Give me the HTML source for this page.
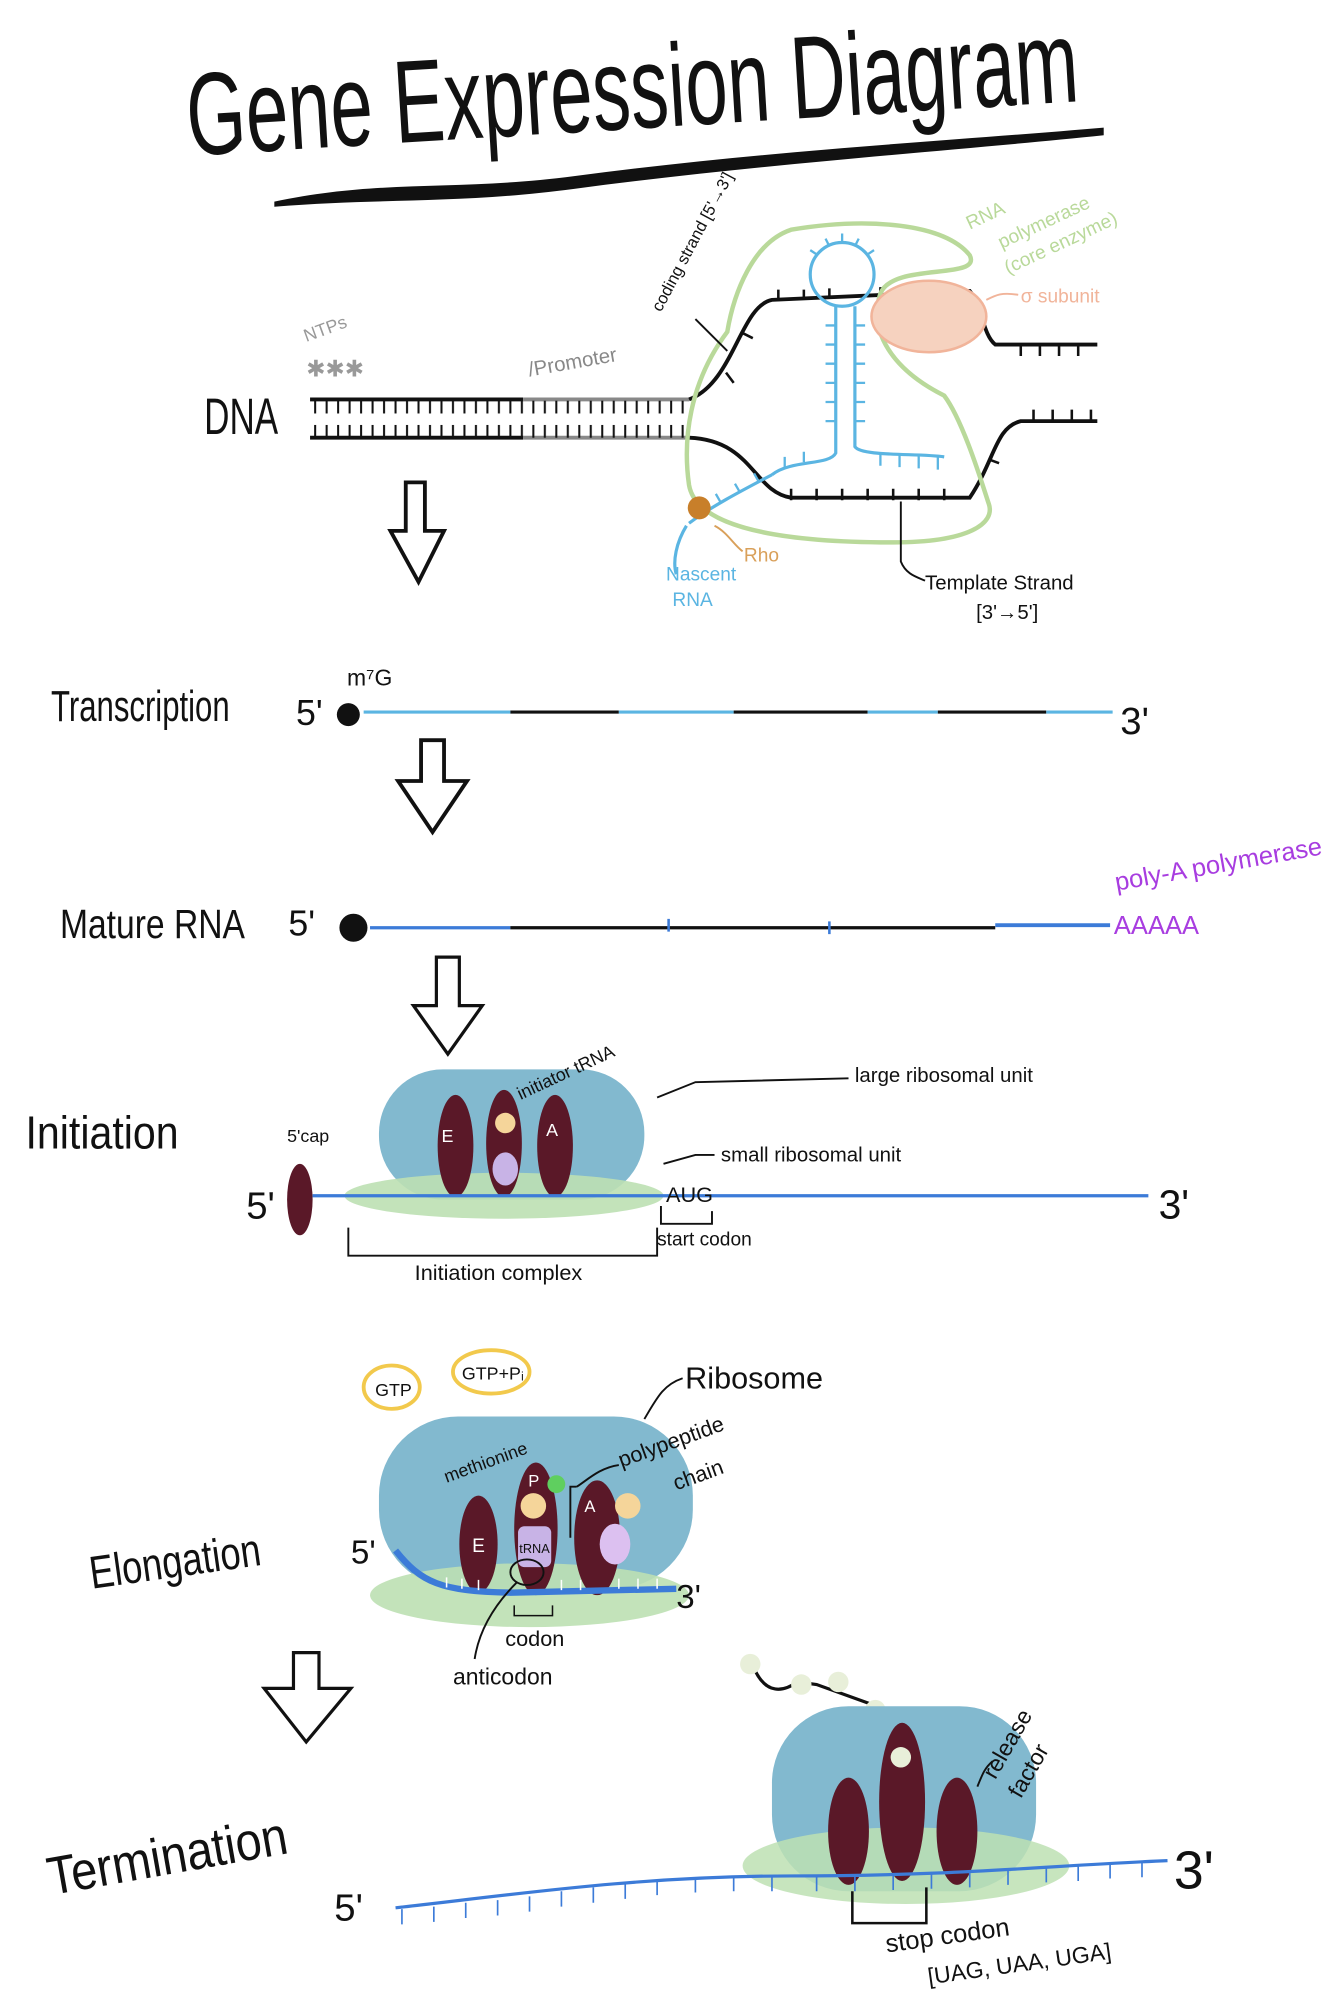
<!DOCTYPE html>
<html><head><meta charset="utf-8"><style>
html,body{margin:0;padding:0;background:#fff;}
svg{display:block;}
text{font-family:"Liberation Sans Narrow","Liberation Sans",sans-serif;}
</style></head><body>
<svg width="1327" height="2001" viewBox="0 0 1040 1568" preserveAspectRatio="none" xmlns="http://www.w3.org/2000/svg">
<defs>
<pattern id="tk" width="9" height="10" patternUnits="userSpaceOnUse"><line x1="4" y1="0" x2="4" y2="10" stroke="#111" stroke-width="1.6"/></pattern>
</defs>
<!-- Title -->
<text x="148" y="122" font-size="92" textLength="700" lengthAdjust="spacingAndGlyphs" fill="#111" transform="rotate(-3.5 148 122)">Gene Expression Diagram</text>
<path d="M215 158 C300 140 360 150 450 138 C600 118 750 110 865 100 L865 106 C750 118 600 128 450 148 C360 160 300 155 215 162 Z" fill="#111"/>

<!-- DNA -->
<text x="160" y="340" font-size="40" textLength="58" lengthAdjust="spacingAndGlyphs" fill="#111">DNA</text>
<text x="240" y="268" font-size="14" fill="#999" transform="rotate(-20 240 268)">NTPs</text>
<text x="240" y="295" font-size="18" fill="#999">✱✱✱</text>
<text x="415" y="295" font-size="16" fill="#888" transform="rotate(-10 415 295)">/Promoter</text>
<line x1="243" y1="313" x2="410" y2="313" stroke="#111" stroke-width="3"/>
<line x1="410" y1="313" x2="540" y2="313" stroke="#888" stroke-width="3"/>
<rect x="243" y="314" width="297" height="10" fill="url(#tk)"/>
<line x1="243" y1="343" x2="410" y2="343" stroke="#111" stroke-width="3"/>
<line x1="410" y1="343" x2="540" y2="343" stroke="#888" stroke-width="3"/>
<rect x="243" y="333" width="297" height="10" fill="url(#tk)"/>
<path d="M540 313 C575 300 580 240 605 235 L760 228 C770 240 770 262 780 270 L860 270" fill="none" stroke="#111" stroke-width="3"/>
<path d="M540 343 C590 345 590 385 620 390 L760 390 C780 360 780 335 800 330 L860 330" fill="none" stroke="#111" stroke-width="3"/>
<path d="M575 300 l-6 -8 M590 265 l-8 -4 M610 236 v-9 M630 235 v-8 M650 234 v-8 M690 233 v-8 M710 232 v-8 M730 231 v-8 M800 271 v8 M815 271 v8 M830 271 v8 M845 271 v8 M620 392 v-9 M640 392 v-9 M660 392 v-9 M680 392 v-9 M700 392 v-9 M720 392 v-9 M740 392 v-9 M775 360 l8 3 M810 330 v-9 M825 330 v-9 M840 330 v-9 M855 330 v-9" stroke="#111" stroke-width="2"/>
<!-- RNA pol outline -->
<path d="M570 260 C540 300 535 345 540 380 C545 410 600 425 700 425 C760 425 780 410 775 395 C770 380 755 330 740 310 C700 290 680 260 690 230 C700 205 770 220 760 200 C740 175 680 170 620 180 C590 190 575 230 570 260 Z" fill="none" stroke="#b9d99a" stroke-width="3.5"/>
<text x="760" y="180" font-size="15" fill="#b9d99a" transform="rotate(-25 760 180)">RNA</text>
<text x="785" y="195" font-size="15" fill="#b9d99a" transform="rotate(-25 785 195)">polymerase</text>
<text x="790" y="215" font-size="15" fill="#b9d99a" transform="rotate(-25 790 215)">(core enzyme)</text>
<!-- sigma -->
<ellipse cx="728" cy="248" rx="45" ry="28" fill="#f6d2bf" stroke="#f1b49a" stroke-width="2"/>
<path d="M773 235 c8 -4 12 -6 25 -4" stroke="#f1b49a" stroke-width="1.5" fill="none"/>
<text x="800" y="237" font-size="15" fill="#f1b49a">σ subunit</text>
<!-- RNA hairpin -->
<circle cx="660" cy="215" r="25" fill="none" stroke="#5bb5e2" stroke-width="2.5"/>
<path d="M655 240 V355 C650 365 620 360 605 372 M670 240 V350 C675 358 720 355 740 358 M605 372 C590 380 560 395 540 410 M538 412 C530 425 527 440 530 450" fill="none" stroke="#5bb5e2" stroke-width="2.5"/>
<path d="M655 255 h-8 M655 270 h-8 M655 285 h-8 M655 300 h-8 M655 315 h-8 M655 330 h-8 M670 255 h8 M670 270 h8 M670 285 h8 M670 300 h8 M670 315 h8 M670 330 h8 M690 355 v10 M705 356 v10 M720 357 v10 M735 358 v10 M630 362 v-8 M615 366 v-8 M595 378 l-4 -7 M580 386 l-4 -7 M565 394 l-4 -7 M641 200 l-6 -4 M650 193 l-3 -6 M660 190 v-7 M670 193 l3 -6 M679 200 l6 -4" stroke="#5bb5e2" stroke-width="1.8"/>
<circle cx="548" cy="398" r="9" fill="#c87f2a"/>
<path d="M560 412 c10 5 15 15 22 20" stroke="#d9a05a" fill="none" stroke-width="1.5"/>
<text x="583" y="440" font-size="15" fill="#d9a05a">Rho</text>
<text x="522" y="455" font-size="15" fill="#5bb5e2">Nascent</text>
<text x="527" y="475" font-size="15" fill="#5bb5e2">RNA</text>
<text x="518" y="245" font-size="13" fill="#111" transform="rotate(-62 518 245)">coding strand [5'→3']</text>
<path d="M545 250 L570 275" stroke="#111" stroke-width="1.5"/>
<path d="M706 393 V440 C710 450 718 452 725 455" stroke="#111" fill="none" stroke-width="1.5"/>
<text x="725" y="462" font-size="16" fill="#111">Template Strand</text>
<text x="765" y="485" font-size="16" fill="#111">[3'→5']</text>
<path d="M318 378 h15 v38 h15 l-20 40 l-22 -40 h12 z" fill="#fff" stroke="#111" stroke-width="3"/>

<!-- Transcription -->
<text x="40" y="565" font-size="34" textLength="140" lengthAdjust="spacingAndGlyphs" fill="#111">Transcription</text>
<text x="232" y="568" font-size="28" fill="#111">5'</text>
<text x="272" y="537" font-size="18" fill="#111">m⁷G</text>
<circle cx="273" cy="560" r="9" fill="#111"/>
<path d="M285 558 H400" stroke="#5bb5e2" stroke-width="2.5"/><path d="M400 558 H485" stroke="#111" stroke-width="2.5"/>
<path d="M485 558 H575" stroke="#5bb5e2" stroke-width="2.5"/><path d="M575 558 H680" stroke="#111" stroke-width="2.5"/>
<path d="M680 558 H735" stroke="#5bb5e2" stroke-width="2.5"/><path d="M735 558 H820" stroke="#111" stroke-width="2.5"/>
<path d="M820 558 H872" stroke="#5bb5e2" stroke-width="2.5"/>
<text x="878" y="575" font-size="30" fill="#111">3'</text>
<path d="M330 580 h18 v32 h18 l-27 40 l-27 -40 h18 z" fill="#fff" stroke="#111" stroke-width="3"/>

<!-- Mature RNA -->
<text x="47" y="735" font-size="32" textLength="145" lengthAdjust="spacingAndGlyphs" fill="#111">Mature RNA</text>
<text x="226" y="733" font-size="28" fill="#111">5'</text>
<circle cx="277" cy="727" r="11" fill="#111"/>
<path d="M290 727 H400" stroke="#3c7bd8" stroke-width="2.5"/><path d="M400 727 H780" stroke="#111" stroke-width="2.5"/>
<path d="M780 725 H870" stroke="#3c7bd8" stroke-width="3"/>
<path d="M524 720 v10 M650 722 v10" stroke="#3c7bd8" stroke-width="2"/>
<text x="875" y="698" font-size="20" fill="#a83de0" transform="rotate(-10 875 698)">poly-A polymerase</text>
<text x="873" y="732" font-size="20" fill="#a83de0">AAAAA</text>
<path d="M342 750 h18 v38 h18 l-27 38 l-27 -38 h18 z" fill="#fff" stroke="#111" stroke-width="2.5"/>

<!-- Initiation -->
<text x="20" y="900" font-size="36" textLength="120" lengthAdjust="spacingAndGlyphs" fill="#111">Initiation</text>
<rect x="297" y="838" width="208" height="102" rx="50" fill="#82b9cf"/>
<ellipse cx="395" cy="937" rx="125" ry="18" fill="#bde0b3" opacity="0.9"/>
<ellipse cx="357" cy="898" rx="14" ry="40" fill="#5a1828"/>
<ellipse cx="395" cy="896" rx="14" ry="42" fill="#5a1828"/>
<ellipse cx="435" cy="898" rx="14" ry="40" fill="#5a1828"/>
<circle cx="396" cy="880" r="8" fill="#f5d59a"/>
<ellipse cx="396" cy="916" rx="10" ry="13" fill="#c8b3e6"/>
<text x="346" y="895" font-size="14" fill="#fff">E</text>
<text x="428" y="890" font-size="14" fill="#fff">A</text>
<path d="M245 937 H900" stroke="#3c7bd8" stroke-width="2.5"/>
<ellipse cx="235" cy="940" rx="10" ry="28" fill="#5a1828"/>
<text x="225" y="895" font-size="14" fill="#111">5'cap</text>
<text x="193" y="955" font-size="30" fill="#111">5'</text>
<text x="908" y="955" font-size="32" fill="#111">3'</text>
<text x="408" y="862" font-size="14" fill="#111" transform="rotate(-25 408 862)">initiator tRNA</text>
<path d="M515 860 L545 848 L665 845" stroke="#111" fill="none" stroke-width="1.5"/>
<text x="670" y="848" font-size="16" fill="#111">large ribosomal unit</text>
<path d="M520 912 L545 905 L560 905" stroke="#111" fill="none" stroke-width="1.5"/>
<text x="565" y="910" font-size="16" fill="#111">small ribosomal unit</text>
<text x="522" y="942" font-size="17" fill="#111">AUG</text>
<path d="M518 945 v14 h40 v-10" stroke="#111" fill="none" stroke-width="1.5"/>
<text x="515" y="976" font-size="15" fill="#111">start codon</text>
<path d="M273 962 v22 h242 v-22" stroke="#111" fill="none" stroke-width="1.5"/>
<text x="325" y="1003" font-size="17" fill="#111">Initiation complex</text>

<!-- Elongation -->
<ellipse cx="307" cy="1087" rx="22" ry="17" fill="none" stroke="#f2c94c" stroke-width="3"/>
<text x="294" y="1094" font-size="14" fill="#111">GTP</text>
<ellipse cx="385" cy="1075" rx="30" ry="17" fill="none" stroke="#f2c94c" stroke-width="3"/>
<text x="362" y="1081" font-size="14" fill="#111">GTP+Pᵢ</text>
<path d="M505 1112 C515 1095 520 1085 535 1080" stroke="#111" fill="none" stroke-width="1.5"/>
<text x="537" y="1088" font-size="24" fill="#111">Ribosome</text>
<rect x="297" y="1110" width="246" height="135" rx="62" fill="#82b9cf"/>
<ellipse cx="415" cy="1250" rx="125" ry="25" fill="#bde0b3" opacity="0.9"/>
<ellipse cx="375" cy="1210" rx="15" ry="38" fill="#5a1828"/>
<ellipse cx="420" cy="1198" rx="17" ry="52" fill="#5a1828"/>
<ellipse cx="468" cy="1205" rx="18" ry="45" fill="#5a1828"/>
<circle cx="418" cy="1180" r="10" fill="#f5d59a"/>
<rect x="406" y="1196" width="26" height="32" rx="5" fill="#c8b3e6"/>
<text x="407" y="1217" font-size="10" fill="#111">tRNA</text>
<circle cx="436" cy="1163" r="7" fill="#5fcf5f"/>
<circle cx="492" cy="1180" r="10" fill="#f5d59a"/>
<ellipse cx="482" cy="1210" rx="12" ry="16" fill="#dcc0f0"/>
<text x="370" y="1216" font-size="15" fill="#fff">E</text>
<text x="414" y="1165" font-size="13" fill="#fff">P</text>
<text x="458" y="1185" font-size="13" fill="#fff">A</text>
<path d="M310 1215 C330 1240 345 1247 400 1248 L530 1245" stroke="#3c7bd8" stroke-width="5" fill="none"/>
<path d="M350 1244 v-8 M362 1245 v-8 M375 1246 v-8 M440 1246 v-8 M455 1246 v-8 M485 1245 v-8 M500 1245 v-8 M515 1245 v-8" stroke="#fff" stroke-width="1.2"/>
<ellipse cx="413" cy="1232" rx="13" ry="10" fill="none" stroke="#111" stroke-width="1.5"/>
<text x="275" y="1225" font-size="26" fill="#111">5'</text>
<text x="530" y="1260" font-size="26" fill="#111">3'</text>
<text x="350" y="1162" font-size="14" fill="#111" transform="rotate(-20 350 1162)">methionine</text>
<path d="M452 1165 h-5 v40 M452 1165 C460 1160 470 1150 485 1148" stroke="#111" fill="none" stroke-width="1.5"/>
<text x="487" y="1150" font-size="17" fill="#111" transform="rotate(-20 487 1150)">polypeptide</text>
<text x="530" y="1168" font-size="17" fill="#111" transform="rotate(-20 530 1168)">chain</text>
<path d="M403 1258 v8 h30 v-8" stroke="#111" fill="none" stroke-width="1.2"/>
<text x="396" y="1290" font-size="17" fill="#111">codon</text>
<path d="M405 1240 C385 1260 375 1280 372 1300" stroke="#111" fill="none" stroke-width="1.5"/>
<text x="355" y="1320" font-size="18" fill="#111">anticodon</text>
<text x="72" y="1245" font-size="36" textLength="135" lengthAdjust="spacingAndGlyphs" fill="#111" transform="rotate(-8 72 1245)">Elongation</text>
<path d="M230 1295 h20 v28 h25 l-35 42 l-33 -42 h23 z" fill="#fff" stroke="#111" stroke-width="2.5"/>

<!-- Termination -->
<text x="40" y="1485" font-size="42" textLength="190" lengthAdjust="spacingAndGlyphs" fill="#111" transform="rotate(-10 40 1485)">Termination</text>
<path d="M590 1305 C600 1330 615 1325 625 1318 L640 1320 L690 1338 C700 1350 705 1370 706 1385" stroke="#111" fill="none" stroke-width="2.5"/>
<circle cx="588" cy="1304" r="8" fill="#e8efd9"/>
<circle cx="628" cy="1320" r="8" fill="#e8efd9"/>
<circle cx="657" cy="1318" r="8" fill="#e8efd9"/>
<circle cx="686" cy="1340" r="8" fill="#e8efd9"/>
<rect x="605" y="1337" width="207" height="145" rx="60" fill="#82b9cf"/>
<ellipse cx="710" cy="1462" rx="128" ry="30" fill="#bde0b3" opacity="0.85"/>
<ellipse cx="665" cy="1435" rx="16" ry="42" fill="#5a1828"/>
<ellipse cx="707" cy="1412" rx="18" ry="62" fill="#5a1828"/>
<ellipse cx="750" cy="1435" rx="16" ry="42" fill="#5a1828"/>
<circle cx="706" cy="1377" r="8" fill="#e8efd9"/>
<path d="M310 1495 C400 1485 500 1470 620 1470 C750 1470 820 1462 915 1458" stroke="#3c7bd8" stroke-width="2.5" fill="none"/>
<path d="M315 1496 v12 M340 1494 v12 M365 1491 v12 M390 1489 v12 M415 1486 v12 M440 1482 v12 M465 1479 v12 M490 1476 v12 M515 1473 v12 M545 1471 v12 M575 1470 v12 M605 1470 v12 M640 1470 v12 M670 1470 v12 M700 1469 v12 M730 1468 v12 M760 1467 v12 M790 1465 v12 M820 1463 v12 M845 1462 v12 M870 1460 v12 M895 1459 v12" stroke="#3c7bd8" stroke-width="1.3"/>
<text x="262" y="1505" font-size="30" fill="#111">5'</text>
<text x="920" y="1480" font-size="42" fill="#111">3'</text>
<path d="M668 1482 v25 h58 v-28" stroke="#111" fill="none" stroke-width="2"/>
<text x="695" y="1530" font-size="20" fill="#111" transform="rotate(-8 695 1530)">stop codon</text>
<text x="728" y="1555" font-size="18" fill="#111" transform="rotate(-8 728 1555)">[UAG, UAA, UGA]</text>
<path d="M766 1400 C770 1390 772 1385 778 1380" stroke="#111" fill="none" stroke-width="1.5"/>
<text x="780" y="1395" font-size="18" fill="#111" transform="rotate(-60 780 1395)">release</text>
<text x="800" y="1410" font-size="18" fill="#111" transform="rotate(-60 800 1410)">factor</text>
</svg>
</body></html>
